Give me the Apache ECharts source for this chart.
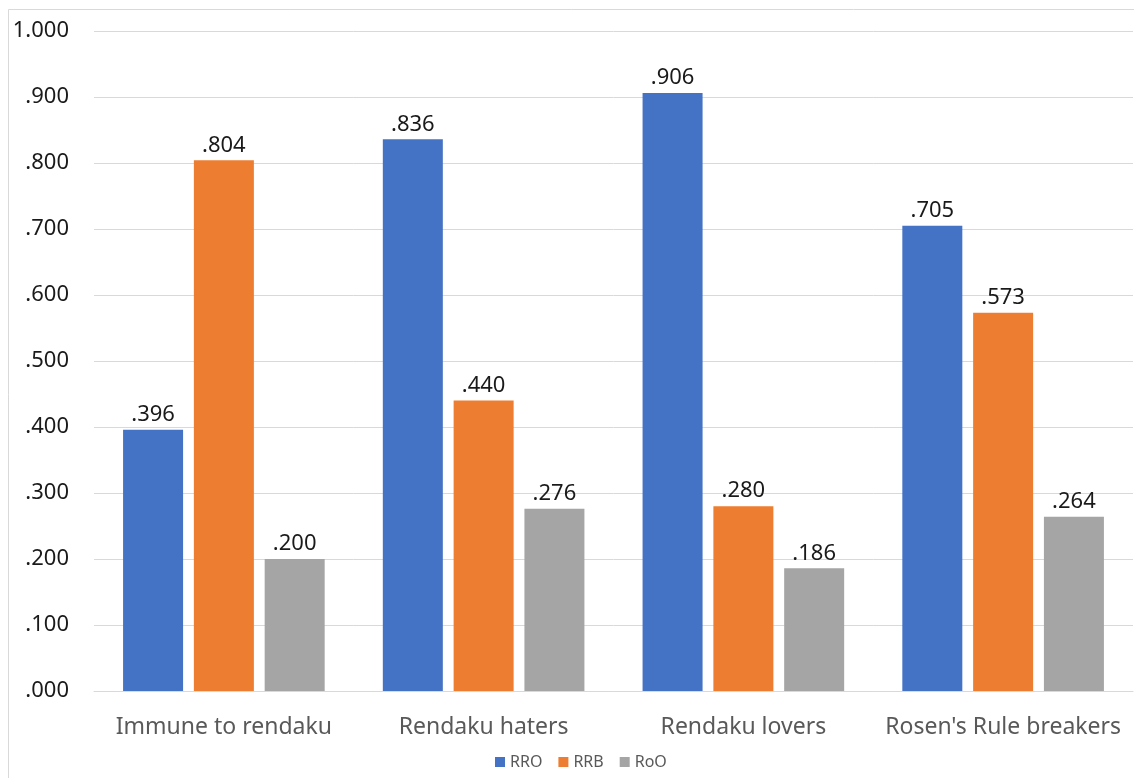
<!DOCTYPE html>
<html>
<head>
<meta charset="utf-8">
<script src="https://cdn.jsdelivr.net/npm/echarts@6/dist/echarts.min.js"></script>
<style>
  html, body { margin: 0; padding: 0; background: #fff; }
  #chart { width: 1134px; height: 778px; }
</style>
</head>
<body>
<div id="chart"></div>
<script>
// Groups along the x axis
const categories = ['Immune to rendaku', 'Rendaku haters', 'Rendaku lovers', "Rosen's Rule breakers"];

// Proportions per group
const rroValues = [0.396, 0.836, 0.906, 0.705];
const rrbValues = [0.804, 0.440, 0.280, 0.573];
const rooValues = [0.200, 0.276, 0.186, 0.264];

const seriesNames = ['RRO', 'RRB', 'RoO'];
const seriesColors = ['#4472C4', '#ED7D31', '#A5A5A5'];

// Drops the leading zero: 0.396 -> ".396"
function fmt(v) {
  const s = Number(v).toFixed(3);
  return s.startsWith('0') ? s.slice(1) : s;
}

const FONT = 'Noto Sans';

function barSeries(name, data, color) {
  return {
    name: name,
    type: 'bar',
    data: data,
    barWidth: 60,
    barGap: '18%',
    itemStyle: { color: color },
    label: {
      show: true,
      position: 'top',
      distance: 4,
      formatter: p => fmt(p.value),
      fontFamily: FONT,
      fontSize: 22,
      color: '#1a1a1a'
    }
  };
}

const chart = echarts.init(document.getElementById('chart'));
chart.setOption({
  animation: false,
  backgroundColor: '#fff',
  graphic: [{
    type: 'rect',
    shape: { x: 8.5, y: 9.5, width: 1140, height: 790 },
    style: { fill: 'none', stroke: '#d9d9d9', lineWidth: 1 },
    silent: true
  }],
  grid: { left: 94, right: 1, top: 31, bottom: 87, containLabel: false },
  legend: {
    data: seriesNames,
    bottom: 3,
    left: 490,
    itemWidth: 10,
    itemHeight: 10,
    itemGap: 16,
    icon: 'rect',
    textStyle: { fontFamily: FONT, fontSize: 16, color: '#595959' }
  },
  xAxis: {
    type: 'category',
    data: categories,
    axisLine: { show: true, lineStyle: { color: '#d9d9d9', width: 1 } },
    axisTick: { show: false },
    axisLabel: { interval: 0, fontFamily: FONT, fontSize: 23, color: '#595959', margin: 25 }
  },
  yAxis: {
    type: 'value',
    min: 0,
    max: 1,
    interval: 0.1,
    axisLine: { show: false },
    axisTick: { show: false },
    splitLine: { lineStyle: { color: '#d9d9d9', width: 1 } },
    axisLabel: {
      fontFamily: FONT,
      fontSize: 22,
      color: '#1a1a1a',
      margin: 25,
      formatter: v => fmt(v)
    }
  },
  series: [
    barSeries(seriesNames[0], rroValues, seriesColors[0]),
    barSeries(seriesNames[1], rrbValues, seriesColors[1]),
    barSeries(seriesNames[2], rooValues, seriesColors[2])
  ]
});
</script>
</body>
</html>
